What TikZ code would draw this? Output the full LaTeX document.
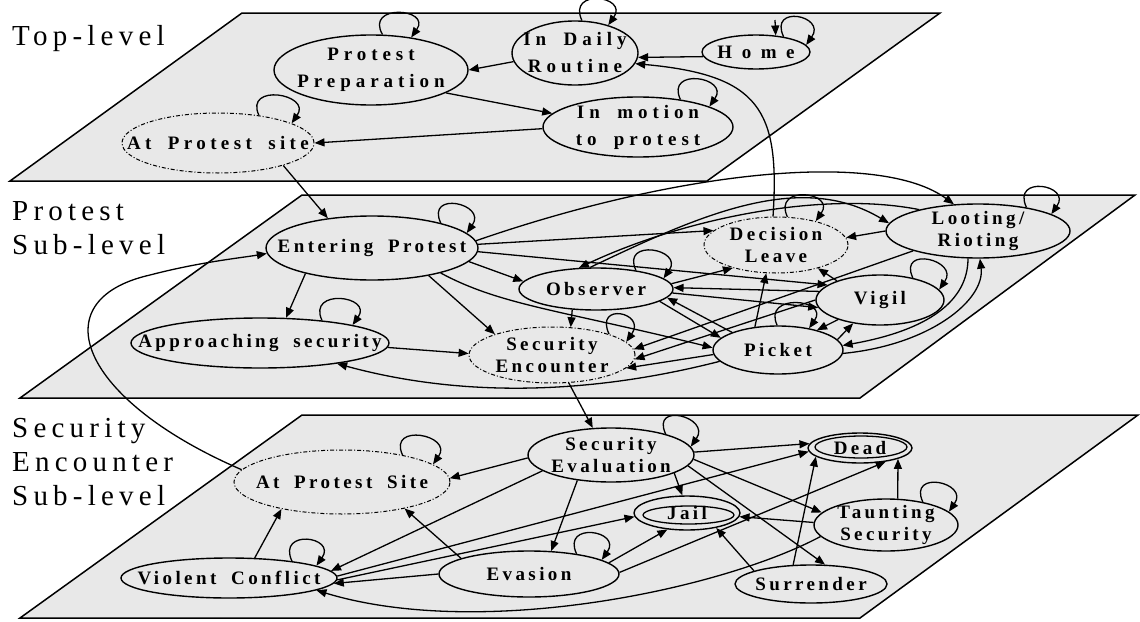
\documentclass[tikz,border=0pt]{standalone}
\usepackage{fontspec}
\setmainfont{Liberation Serif}
\newfontfamily\levelfont[LetterSpace=18]{Liberation Serif}
\newfontfamily\statefont[LetterSpace=18,WordSpace=1.8]{Liberation Serif}
\newfontfamily\topfont[LetterSpace=26,WordSpace=1.8]{Liberation Serif}
\newfontfamily\sitefont[LetterSpace=23,WordSpace=1.8]{Liberation Serif}
\newfontfamily\homefont[LetterSpace=50]{Liberation Serif}
\usetikzlibrary{shapes.geometric,arrows.meta,topaths}
\definecolor{planegray}{HTML}{E8E8E8}

\begin{document}
\begin{tikzpicture}[x=1pt, y=-1pt,
  >={Triangle[length=10pt,width=8pt]},
  plane/.style={draw, line width=1.5pt, fill=planegray},
  level/.style={anchor=north west, inner sep=0pt, align=left, font=\levelfont\fontsize{29}{34}\selectfont},
  state/.style={ellipse, draw, line width=1.4pt, fill=planegray, inner sep=-60pt, align=center,
    font=\statefont\bfseries\fontsize{19}{22}\selectfont},
  topstate/.style={state, font=\topfont\bfseries\fontsize{19}{27}\selectfont},
  passby/.style={line width=1pt, dash pattern=on 4pt off 2pt on 1pt off 2pt},
  link/.style={->, line width=1.3pt},
  loopy/.style={->, line width=1.3pt, min distance=36pt, looseness=1}]

\useasboundingbox (0,0) rectangle (1140,621);

% the three planes
\draw[plane] (242,13) -- (940,13) -- (707,181) -- (10,181) -- cycle;
\draw[plane] (302,195) -- (1135,195) -- (860,398) -- (20,398) -- cycle;
\draw[plane] (302,415) -- (1138,415) -- (860,618) -- (20,618) -- cycle;

\node[level] (toplbl) at (12,25.5) {Top-level};
\node[level] (protlbl) at (12,201.5) {Protest\\Sub-level};
\node[level] (seclbl) at (12,418.5) {Security\\Encounter\\Sub-level};

% top level
\node[topstate, minimum width=194pt, minimum height=70pt] (prep) at (371,70) {Protest\\Preparation};
\node[topstate, minimum width=126pt, minimum height=64pt] (daily) at (575,53) {In Daily\\Routine};
\node[state, minimum width=108pt, minimum height=34pt, font=\homefont\bfseries\fontsize{19}{22}\selectfont] (home) at (756,52) {Home};
\node[topstate, minimum width=190pt, minimum height=60pt] (motion) at (638,127) {In motion\\to protest};
\node[state, passby, minimum width=192pt, minimum height=60pt, font=\sitefont\bfseries\fontsize{19}{22}\selectfont] (site) at (218,143) {At Protest site};

% protest sub-level
\node[state, minimum width=212pt, minimum height=64pt] (enter) at (372,248) {Entering Protest};
\node[state, minimum width=258pt, minimum height=50pt] (appr) at (260,343) {Approaching security};
\node[state, passby, minimum width=166pt, minimum height=56pt] (enc) at (552,355) {Security\\Encounter};
\node[state, minimum width=154pt, minimum height=42pt] (obs) at (596,289) {Observer};
\node[state, passby, minimum width=144pt, minimum height=56pt] (leave) at (776,245) {Decision\\Leave};
\node[state, minimum width=184pt, minimum height=54pt] (loot) at (978,231) {Looting/\\Rioting};
\node[state, minimum width=128pt, minimum height=50pt] (vigil) at (880,300) {Vigil};
\node[state, minimum width=130pt, minimum height=48pt] (picket) at (778,350) {Picket};

% security encounter sub-level
\node[state, minimum width=166pt, minimum height=54pt] (eval) at (611,455) {Security\\Evaluation};
\node[state, passby, minimum width=216pt, minimum height=64pt] (psite) at (342,482) {At Protest Site};
\node[state, minimum width=104pt, minimum height=30pt] (dead) at (860,448) {Dead};
\node[state, minimum width=106pt, minimum height=34pt] (jail) at (687,513) {Jail};
\node[state, minimum width=144pt, minimum height=52pt] (taunt) at (886,525) {Taunting\\Security};
\node[state, minimum width=180pt, minimum height=46pt] (evas) at (529,574) {Evasion};
\node[state, minimum width=216pt, minimum height=40pt] (viol) at (229,578) {Violent Conflict};
\node[state, minimum width=152pt, minimum height=38pt] (surr) at (811,584) {Surrender};
\draw[line width=1.3pt] ([xshift=1pt,yshift=1pt]dead.center) ellipse [x radius=46, y radius=11];
\draw[line width=1.3pt] ([xshift=1.5pt,yshift=-2pt]jail.center) ellipse [x radius=45.5, y radius=9];

% top level links
\coordinate (start) at (775,20);
\draw[link] (start) -- (home.40);
\draw[link] (home.185) -- (daily.-4);
\draw[link] (daily.188) -- (prep.0);
\draw[link] (prep.-17) -- (motion.171);
\draw[link] (motion.181) -- (site.0);
\draw[link] (site.-19) -- (enter.146);
\draw[link] (leave.96) .. controls (780,110) and (760,75) .. (daily.-10);

% protest sub-level links
\draw[link] (enter.201) -- (appr.44);
\draw[link] (appr.-2) -- (enc.179);
\draw[link] (picket.191) .. controls (600,392) and (470,400) .. (appr.-15);
\draw[link] (enter.-26) -- (enc.160);
\draw[link] (enter.-8) -- (obs.174);
\draw[link] (enter.-20) .. controls (500,305) and (560,310) .. (picket.178);
\draw[link] (enter.2) -- (leave.167);
\draw[link] (enter.4) .. controls (680,170) and (880,150) .. (loot.132);
\draw[link] (enter.-2) -- (vigil.164);
\draw[link] (obs.4) -- (leave.208);
\draw[link] (loot.180) -- (leave.6);
\draw[link] (vigil.156) -- (leave.-29);
\draw[link] (picket.135) -- (leave.251);
\draw[link] (obs.-3) -- (vigil.187);
\draw[link] (vigil.172) -- (obs.1);
\draw[link] (obs.-11) -- (picket.168);
\draw[link] (picket.159) -- (obs.-7);
\draw[link] (obs.221) -- (enc.56);
\draw[link] (loot.197) -- (enc.4);
\draw[link] (vigil.180) -- (enc.-3);
\draw[link] (picket.184) -- (enc.-10);
\draw[link] (loot.250) .. controls (968,300) and (930,330) .. (picket.4);
\draw[link] (picket.-3) .. controls (930,345) and (985,300) .. (loot.274);
\draw[link] (vigil.205) -- (picket.27);
\draw[link] (picket.10) -- (vigil.221);
\draw[link] (obs.105) .. controls (700,215) and (800,170) .. (loot.175);
\draw[link] (loot.160) .. controls (820,190) and (680,220) .. (obs.129);
\draw[link] (psite.173) .. controls (80,400) and (40,300) .. (150,275) .. controls (200,262) and (240,258) .. (enter.183);

% security encounter links
\draw[link] (enc.-59) -- (eval.124);
\draw[link] (eval.182) -- (psite.2);
\draw[link] (viol.38) -- (psite.204);
\draw[link] (evas.167) -- (psite.-23);
\draw[link] (eval.193) -- (viol.4);
\draw[link] (eval.217) -- (evas.46);
\draw[link] (eval.-16) -- (jail.105);
\draw[link] (eval.2) -- (dead.175);
\draw[link] (eval.-3) -- (taunt.169);
\draw[link] (eval.-8) -- (surr.54);
\draw[link] (viol.1) -- (dead.184);
\draw[link] (viol.-1) -- (jail.184);
\draw[link] (evas.180) -- (viol.-3);
\draw[link] (taunt.190) .. controls (720,590) and (480,640) .. (viol.-8);
\draw[link] (evas.8) -- (jail.220);
\draw[link] (evas.1) -- (dead.-28);
\draw[link] (taunt.178) -- (jail.-4);
\draw[link] (taunt.66) -- (dead.-16);
\draw[link] (surr.133) -- (dead.191);
\draw[link] (surr.167) -- (jail.-27);

% self loops
\draw[loopy] (home.29) to[out=115,in=55] (home.8);
\draw[loopy] (daily.78) to[out=115,in=55] (daily.40);
\draw[loopy] (prep.72) to[out=120,in=55] (prep.39);
\draw[loopy] (motion.33) to[out=115,in=55] (motion.16);
\draw[loopy] (site.34) to[out=115,in=55] (site.15);
\draw[loopy] (enter.20) to[out=115,in=55] (enter.9);
\draw[loopy] (appr.20) to[out=115,in=55] (appr.11);
\draw[loopy] (enc.20) to[out=115,in=55] (enc.10);
\draw[loopy] (obs.25) to[out=115,in=55] (obs.9);
\draw[loopy] (leave.68) to[out=115,in=55] (leave.31);
\draw[loopy] (loot.26) to[out=115,in=55] (loot.13);
\draw[loopy] (vigil.34) to[out=115,in=55] (vigil.10);
\draw[loopy] (picket.92) to[out=115,in=55] (picket.35);
\draw[loopy] (eval.21) to[out=115,in=55] (eval.6);
\draw[loopy] (psite.24) to[out=115,in=55] (psite.11);
\draw[loopy] (viol.15) to[out=115,in=55] (viol.8);
\draw[loopy] (evas.23) to[out=115,in=55] (evas.11);
\draw[loopy] (taunt.32) to[out=115,in=55] (taunt.12);

\end{tikzpicture}
\end{document}
